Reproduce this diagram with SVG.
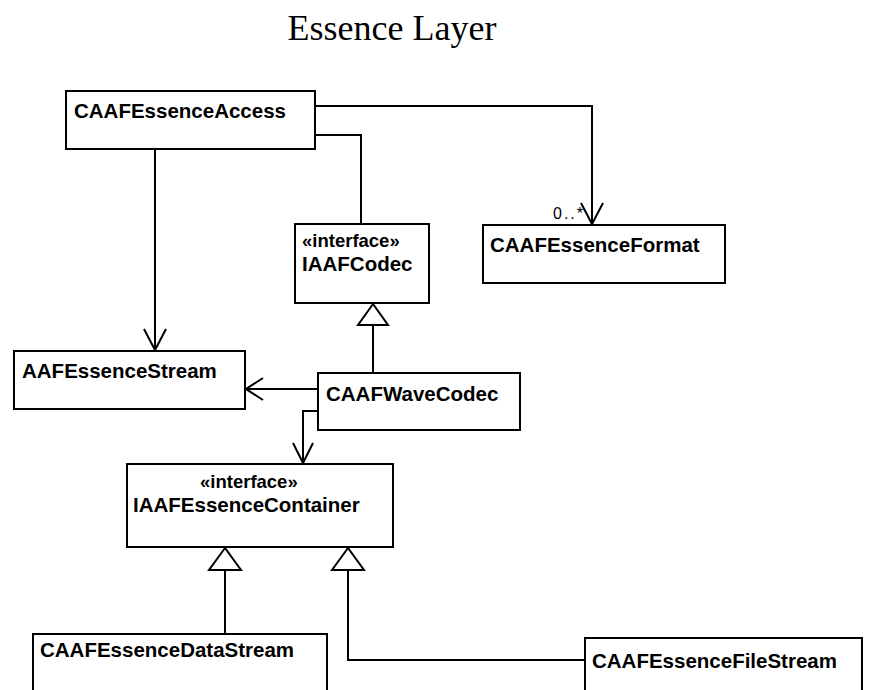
<svg xmlns="http://www.w3.org/2000/svg" width="872" height="690" viewBox="0 0 872 690">
  <style>
    .box { fill: #fff; stroke: #000; stroke-width: 2; }
    .name { font-family: "Liberation Sans", Arial, sans-serif; font-weight: bold; font-size: 20.5px; fill: #000; }
    .stereo { font-family: "Liberation Sans", Arial, sans-serif; font-weight: bold; font-size: 18.5px; fill: #000; }
    .mult { font-family: "Liberation Sans", Arial, sans-serif; font-size: 16px; fill: #000; }
    .title { font-family: "Liberation Serif", "Times New Roman", serif; font-size: 36px; fill: #000; }
    .line { fill: none; stroke: #000; stroke-width: 2; }
    .open { fill: none; stroke: #000; stroke-width: 2; }
    .tri { fill: #fff; stroke: #000; stroke-width: 2; stroke-linejoin: miter; }
  </style>

  <rect width="872" height="690" fill="#fff"/>

  <text class="title" x="392" y="40" text-anchor="middle">Essence Layer</text>

  <!-- connectors -->
  <g id="connectors">
    <!-- Access -> Format (0..*) -->
    <polyline class="line" points="315,106 592,106 592,224"/>
    <polyline class="open" points="581,203 592,224 603,203"/>
    <text class="mult" x="553" y="219" letter-spacing="2">0..*</text>

    <!-- Access - IAAFCodec -->
    <polyline class="line" points="315,135 361,135 361,224"/>

    <!-- Access -> AAFEssenceStream -->
    <line class="line" x1="155" y1="149" x2="155" y2="350"/>
    <polyline class="open" points="144,329 155,350 166,329"/>

    <!-- WaveCodec realizes IAAFCodec -->
    <line class="line" x1="373" y1="325" x2="373" y2="373"/>
    <polygon class="tri" points="373,304 358,325 388,325"/>

    <!-- WaveCodec -> AAFEssenceStream -->
    <line class="line" x1="318" y1="389" x2="246" y2="389"/>
    <polyline class="open" points="263,378 246,389 263,400"/>

    <!-- WaveCodec -> IAAFEssenceContainer -->
    <polyline class="line" points="318,411 303,411 303,463"/>
    <polyline class="open" points="293,443 303,463 313,443"/>

    <!-- DataStream realizes container -->
    <line class="line" x1="225" y1="570" x2="225" y2="634"/>
    <polygon class="tri" points="225,548 209,570 241,570"/>

    <!-- FileStream realizes container -->
    <polyline class="line" points="585,660 348,660 348,570"/>
    <polygon class="tri" points="348,548 332,570 364,570"/>
  </g>

  <g id="CAAFEssenceAccess">
    <rect class="box" x="66" y="91" width="249" height="58"/>
    <text class="name" x="74" y="118">CAAFEssenceAccess</text>
  </g>

  <g id="CAAFEssenceFormat">
    <rect class="box" x="483" y="225" width="242" height="58"/>
    <text class="name" x="490" y="252">CAAFEssenceFormat</text>
  </g>

  <g id="IAAFCodec">
    <rect class="box" x="295" y="224" width="134" height="79"/>
    <text class="stereo" x="302" y="247">«interface»</text>
    <text class="name" x="302" y="271">IAAFCodec</text>
  </g>

  <g id="AAFEssenceStream">
    <rect class="box" x="14" y="351" width="231" height="58"/>
    <text class="name" x="22" y="378">AAFEssenceStream</text>
  </g>

  <g id="CAAFWaveCodec">
    <rect class="box" x="318" y="373" width="202" height="57"/>
    <text class="name" x="326" y="401">CAAFWaveCodec</text>
  </g>

  <g id="IAAFEssenceContainer">
    <rect class="box" x="127" y="464" width="266" height="83"/>
    <text class="stereo" x="200" y="488">«interface»</text>
    <text class="name" x="133" y="512">IAAFEssenceContainer</text>
  </g>

  <g id="CAAFEssenceDataStream">
    <rect class="box" x="33" y="634" width="294" height="70"/>
    <text class="name" x="40" y="657">CAAFEssenceDataStream</text>
  </g>

  <g id="CAAFEssenceFileStream">
    <rect class="box" x="585" y="638" width="277" height="70"/>
    <text class="name" x="592" y="668">CAAFEssenceFileStream</text>
  </g>
</svg>
